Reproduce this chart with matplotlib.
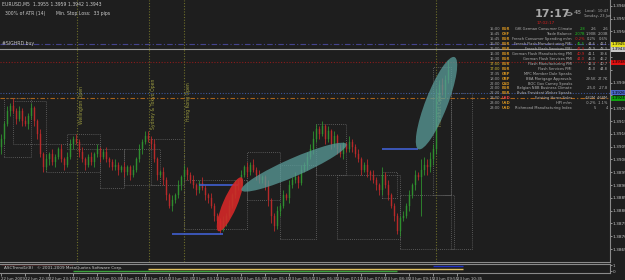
import numpy as np
import matplotlib
matplotlib.use('Agg')
import matplotlib.pyplot as plt
import matplotlib.transforms as mtransforms
from matplotlib.patches import Rectangle, Ellipse, Circle

# ---- data (EURUSD M5, 22-23 Jun 2009) ----
first_open = 1.3905
closes = [1.3908, 1.3914, 1.3919, 1.3921, 1.3919, 1.3916, 1.3919, 1.3915, 1.3914, 1.3917, 1.3920,
          1.3915, 1.3910, 1.3902, 1.3897,
          1.3900, 1.3902, 1.3899, 1.3901, 1.3904, 1.3900, 1.3898, 1.3901,
          1.3906, 1.3908, 1.3907,
          1.3903, 1.3900, 1.3898, 1.3901, 1.3899,
          1.3902, 1.3904, 1.3901, 1.3903, 1.3900,
          1.3899, 1.3897, 1.3898, 1.3896, 1.3897,
          1.3895, 1.3897, 1.3894, 1.3896, 1.3900,
          1.3904, 1.3907, 1.3909, 1.3908,
          1.3906, 1.3900, 1.3894, 1.3895,
          1.3892, 1.3886, 1.3882, 1.3884,
          1.3886, 1.3890, 1.3893, 1.3896, 1.3894, 1.3892,
          1.3890, 1.3888, 1.3891, 1.3889, 1.3886,
          1.3885, 1.3882, 1.3878, 1.3876, 1.3873,
          1.3876, 1.3878, 1.3882, 1.3886, 1.3890, 1.3891,
          1.3894, 1.3897, 1.3895, 1.3898, 1.3896,
          1.3894, 1.3892, 1.3893, 1.3890,
          1.3884, 1.3878, 1.3874, 1.3880,
          1.3882, 1.3886, 1.3885, 1.3890, 1.3892,
          1.3893, 1.3891, 1.3896, 1.3898, 1.3901,
          1.3904, 1.3908, 1.3912, 1.3910, 1.3913,
          1.3908, 1.3911, 1.3906, 1.3909, 1.3904,
          1.3902, 1.3906, 1.3904, 1.3907, 1.3905,
          1.3902, 1.3900, 1.3896, 1.3898, 1.3895,
          1.3894, 1.3892, 1.3890, 1.3888, 1.3894,
          1.3890, 1.3886, 1.3882, 1.3878, 1.3872,
          1.3877, 1.3878, 1.3882, 1.3886, 1.3890,
          1.3894, 1.3893, 1.3896, 1.3898, 1.3897,
          1.3900, 1.3904, 1.3925,
          1.3929, 1.3927, 1.3931, 1.3935, 1.3938,
          1.3945, 1.3952, 1.3955, 1.3943]
# wick sizes in pips
wick_up = [2, 1, 2, 1, 3, 1, 2, 1, 2, 1, 2,
           1, 1, 2, 1,
           2, 1, 2, 1, 1, 2, 1, 2,
           2, 1, 2,
           1, 2, 1, 1, 2,
           1, 2, 1, 1, 2,
           1, 1, 2, 1, 1,
           2, 1, 1, 2, 1,
           2, 1, 2, 2,
           1, 2, 1, 1,
           2, 1, 1, 2,
           1, 2, 1, 2, 1, 1,
           2, 1, 1, 2, 1,
           1, 2, 1, 1, 1,
           2, 1, 2, 1, 2, 1,
           2, 1, 2, 1, 2,
           1, 2, 1, 1,
           2, 1, 1, 2,
           1, 2, 1, 2, 1,
           2, 1, 2, 1, 2,
           2, 3, 2, 1, 2,
           1, 2, 1, 2, 1,
           2, 1, 1, 2, 1,
           1, 2, 1, 1, 2,
           1, 2, 1, 1, 3,
           1, 2, 1, 1, 1,
           1, 2, 1, 2, 1,
           2, 1, 4,
           3, 2, 3, 2, 3,
           2, 3, 2, 4]
wick_dn = [3, 2, 1, 2, 1, 2, 1, 2, 1, 2, 1,
           2, 2, 1, 2,
           1, 2, 1, 2, 1, 1, 2, 1,
           1, 2, 1,
           2, 1, 2, 1, 1,
           2, 1, 2, 1, 1,
           2, 1, 1, 2, 1,
           2, 1, 2, 1, 1,
           1, 2, 1, 1,
           2, 1, 2, 1,
           2, 2, 1, 2,
           1, 1, 2, 1, 2, 1,
           1, 2, 1, 1, 2,
           2, 1, 2, 1, 2,
           1, 2, 1, 1, 1, 2,
           1, 1, 2, 1, 1,
           2, 1, 1, 2,
           2, 3, 2, 1,
           2, 1, 1, 2, 1,
           1, 2, 1, 1, 2,
           1, 2, 1, 2, 1,
           2, 1, 2, 1, 2,
           1, 2, 1, 1, 2,
           1, 1, 2, 1, 2,
           2, 1, 2, 2, 2,
           1, 2, 1, 2, 1,
           2, 1, 1, 2, 1,
           2, 1, 15,
           2, 3, 2, 2, 2,
           2, 2, 3, 1]

price_ticks = [1.3960, 1.3955, 1.3950, 1.3945, 1.3940, 1.3935, 1.3930, 1.3925, 1.3920, 1.3915,
               1.3910, 1.3905, 1.3900, 1.3895, 1.3890, 1.3885, 1.3880, 1.3875, 1.3870, 1.3865]
time_labels = ['22 Jun 2009', '22 Jun 22:35', '22 Jun 23:15', '22 Jun 23:55', '23 Jun 00:35',
               '23 Jun 01:15', '23 Jun 01:55', '23 Jun 02:35', '23 Jun 03:15', '23 Jun 03:55',
               '23 Jun 04:35', '23 Jun 05:15', '23 Jun 05:55', '23 Jun 06:35', '23 Jun 07:15',
               '23 Jun 07:55', '23 Jun 08:35', '23 Jun 09:15', '23 Jun 09:55', '23 Jun 10:35']

# session range boxes: start bar, end bar, low, high
boxes = [(1, 10, 1.3901, 1.3924), (4, 15, 1.3906, 1.3923), (15, 33, 1.3895, 1.3906),
         (22, 33, 1.3904, 1.3910), (33, 41, 1.3889, 1.3904), (41, 53, 1.3890, 1.3904),
         (50, 61, 1.3890, 1.3908), (61, 82, 1.3873, 1.3892), (82, 93, 1.3884, 1.3903),
         (93, 105, 1.3869, 1.3898), (105, 115, 1.3894, 1.3914), (112, 133, 1.3869, 1.3894),
         (127, 132, 1.3885, 1.3895), (133, 151, 1.3865, 1.3886), (144, 150, 1.3886, 1.3936),
         (150, 157, 1.3865, 1.3926)]
# blue breakout levels: start bar, end bar, price
levels = [(57, 74, 1.3871), (66, 79, 1.3890), (127, 139, 1.3904)]
# session open markers
sessions = [(25.3, 'Wellington Open', 1.3914), (49.3, 'Sydney & Tokyo Open', 1.3912),
            (61, 'Hong Kong Open', 1.3915), (145, 'Frankfurt Open', 1.3913)]
# full width lines: price, color, style
hlines = [(1.3945, '#44448e', (0, (5, 2, 1, 2))), (1.3938, '#8a1c1c', (0, (1, 1.5))),
          (1.3926, '#3c569a', (0, (1, 1.5))), (1.3924, '#a8641c', (0, (4, 2, 1, 2)))]
price_flags = [(1.3945, '#e6e01e'), (1.3943, '#c8c8c8'), (1.3938, '#e01010'),
               (1.3926, '#4a66c8'), (1.3924, '#10a010')]

# indicator sub window: start bar, end bar, level, color
ind = [(0, 24, 0.95, '#d03838'), (24, 132, 0.19, '#3aa03a'), (49, 154, 0.41, '#e0c060'),
       (144, 154, 0.78, '#2030c0')]

# economic calendar
ev_time = ['15:00', '15:45', '15:45', '16:00', '16:00', '16:30', '16:30', '17:00', '17:00',
           '17:35', '18:00', '22:00', '22:00', '22:30', '23:00', '23:00', '23:00']
ev_cur = ['EUR', 'CHF', 'EUR', 'EUR', 'EUR', 'EUR', 'EUR', 'EUR', 'EUR',
          'GBP', 'GBP', 'CAD', 'EUR', 'EUR', 'USD', 'USD', 'USD']
ev_name = ['GfK German Consumer Climate', 'Trade Balance', 'French Consumer Spending m/m',
           'French Flash Manufacturing PMI', 'French Flash Services PMI',
           'German Flash Manufacturing PMI', 'German Flash Services PMI',
           'Flash Manufacturing PMI', 'Flash Services PMI', 'MPC Member Dale Speaks',
           'BBA Mortgage Approvals', 'BOC Gov Carney Speaks', 'Belgian NBB Business Climate',
           'Buba President Weber Speaks', 'Existing Home Sales', 'HPI m/m',
           'Richmond Manufacturing Index']
ev_act = ['2.8', '2.07B', '-0.2%', '45.5', '47.3', '40.9', '44.0', '', '', '', '', '', '', '', '', '', '']
ev_act_col = ['#20c020', '#20c020', '#e02020', '#20c020', '#e02020', '#e02020', '#e02020']
ev_fc = ['2.6', '1.90B', '0.2%', '44.6', '48.9', '41.1', '46.0', '42.4', '45.0', '',
         '29.5K', '', '-25.0', '', '4.82M', '-0.2%', '5']
ev_prev = ['2.6', '2.03B', '0.6%', '42.1', '48.3', '39.6', '46.2', '40.7', '44.8', '',
           '27.7K', '', '-27.8', '', '4.68M', '-1.1%', '4']

pip = 0.0001
W, H = 625, 280
bg = '#1e1e1e'
bull, bear = '#2f8f2f', '#b82a2a'

fig = plt.figure(figsize=(W / 100, H / 100), dpi=100, facecolor=bg)
ax = fig.add_axes([0, 18 / H, 610 / W, 262 / H], facecolor=bg)
sub = fig.add_axes([0, 7 / H, 610 / W, 9 / H], facecolor=bg)

ax.set_xlim(-0.5, -0.5 + 610 / 3)
ax.set_ylim(1.39623 - 262 * 0.0000390625, 1.39623)
sub.set_xlim(ax.get_xlim())
sub.set_ylim(0, 1)

# candles
opens = [first_open] + closes[:-1]
for i, (o, c, u, d) in enumerate(zip(opens, closes, wick_up, wick_dn)):
    col = bull if c >= o else bear
    ax.vlines(i, min(o, c) - d * pip, max(o, c) + u * pip, color=col, lw=0.6, zorder=3)
    ax.add_patch(Rectangle((i - 0.3, min(o, c)), 0.6, max(abs(c - o), 0.00003),
                           fc=col, ec=col, lw=0.3, zorder=3))

for i0, i1, lo, hi in boxes:
    ax.add_patch(Rectangle((i0, lo), i1 - i0, hi - lo, fill=False, ec='#6a6a6a',
                           lw=0.6, ls=(0, (1, 1.5)), zorder=2))

for i0, i1, p in levels:
    ax.hlines(p, i0, i1, color='#4060d0', lw=1.2, zorder=4)

for p, col, ls in hlines:
    ax.axhline(p, color=col, lw=0.8, ls=ls, zorder=2)
ax.axhline(closes[-1], color='#9a9a9a', lw=0.8, zorder=2)

for x, name, y in sessions:
    ax.axvline(x, color='#6e6e2a', lw=0.8, ls=(0, (1, 1.5)), zorder=2)
    ax.text(x + 0.6, y, name, rotation=90, ha='left', va='bottom', fontsize=3.3,
            color='#9a9a40', zorder=5)


def ellipse(a, b, w, color, alpha):
    pa = ax.transData.transform(a)
    pb = ax.transData.transform(b)
    d = pb - pa
    e = Ellipse((pa + pb) / 2, np.hypot(*d), w, angle=np.degrees(np.arctan2(d[1], d[0])),
                transform=mtransforms.IdentityTransform(), fc=color, ec='none',
                alpha=alpha, zorder=6)
    ax.add_artist(e)


ellipse((72.3, 1.3872), (80, 1.3893), 14, '#d42828', 0.9)
ellipse((80, 1.3888), (115, 1.3906), 18, '#5a9c9a', 0.75)
ellipse((139, 1.3904), (151, 1.3940), 22, '#5a9c9a', 0.75)

# axes styling
for s in ['left', 'top']:
    ax.spines[s].set_visible(False)
for s in ['right', 'bottom']:
    ax.spines[s].set_color('#8a8a8a')
    ax.spines[s].set_linewidth(0.8)
ax.set_xticks([])
ax.yaxis.tick_right()
ax.set_yticks(price_ticks)
# labels hidden where a price flag sits on top of them
flag_prices = [p for p, _ in price_flags]
ax.set_yticklabels(['' if min(abs(p - f) for f in flag_prices) < 0.00031 else '%.4f' % p
                    for p in price_ticks])
ax.tick_params(axis='y', colors='#c8c8c8', labelsize=3.1, length=1.2, width=0.5, pad=0.6)

blend = mtransforms.blended_transform_factory(ax.transAxes, ax.transData)
for p, col in price_flags:
    ax.text(1.003, p, '%.4f' % p, transform=blend, fontsize=2.9, color='black', va='center',
            ha='left', clip_on=False, zorder=7,
            bbox=dict(boxstyle='square,pad=0.12', fc=col, ec='none'))

# indicator sub window
for i0, i1, lv, col in ind:
    sub.hlines(lv, i0, i1, color=col, lw=1.0)
for s in sub.spines.values():
    s.set_color('#8a8a8a')
    s.set_linewidth(0.8)
sub.spines['left'].set_visible(False)
sub.set_xticks(range(0, 8 * len(time_labels), 8))
sub.set_xticklabels(time_labels)
for lb in sub.get_xticklabels():
    lb.set_ha('left')
sub.tick_params(axis='x', colors='#c0c0c0', labelsize=2.9, length=2, width=0.5, pad=1)
sub.yaxis.tick_right()
sub.set_yticks([0.2, 0.85])
sub.set_yticklabels(['0', '1'])
sub.tick_params(axis='y', colors='#c0c0c0', labelsize=3, length=1.2, width=0.5, pad=0.6)
sub.text(1, 0.5, 'ASCTrend1i(8)   \u00a9 2001-2009 MetaQuotes Software Corp.',
         fontsize=3, color='#c8c8c8', va='center', ha='left')


def ftext(x, y, s, **kw):
    fig.text(x / W, 1 - y / H, s, **kw)


hi_last = closes[-2] + wick_up[-1] * pip
lo_last = closes[-1] - wick_dn[-1] * pip
ftext(2, 4, 'EURUSD,M5  %.4f %.4f %.4f %.4f' % (opens[-1], hi_last, lo_last, closes[-1]),
      fontsize=3.3, color='#c8c8c8', va='center')
ftext(5, 13, '300% of ATR (14)       Min. Stop Loss:  33 pips', fontsize=3.3,
      color='#c8c8c8', va='center')
ftext(2, 43.5, '#SIGHRD buy', fontsize=3.3, color='#c8c8c8', va='center')

# clock
ftext(535, 14, '17:17', fontsize=8, fontweight='bold', color='#a8a8a8', va='center')
fig.patches.append(Circle((569 / W, 1 - 14 / H), 3 / W, transform=fig.transFigure,
                          fill=False, ec='#a8a8a8', lw=0.7))
ftext(574, 12.5, '48', fontsize=4.5, color='#a8a8a8', va='center')
ftext(585, 11, 'Local:  10:47', fontsize=2.6, color='#a8a8a8', va='center')
ftext(583, 16, 'Tuesday, 23 Jun', fontsize=2.6, color='#a8a8a8', va='center')
ftext(537, 23.5, '17:02:17', fontsize=3, color='#d02020', va='center')

for k in range(len(ev_name)):
    y = 29.3 + 4.93 * k
    tcol = '#d8c030' if ev_time[k] == '17:00' else '#a8a8a8'
    ccol = '#e04040' if k == 14 else '#d09020'
    ftext(490, y, ev_time[k], fontsize=2.6, color=tcol, va='center')
    ftext(502, y, ev_cur[k], fontsize=2.6, color=ccol, va='center', fontweight='bold')
    ftext(572, y, ev_name[k], fontsize=2.6, color='#b0b0b0', va='center', ha='right')
    if ev_act[k]:
        ftext(585, y, ev_act[k], fontsize=2.6, color=ev_act_col[k], va='center', ha='right')
    ftext(596, y, ev_fc[k], fontsize=2.6, color='#b0b0b0', va='center', ha='right')
    ftext(608, y, ev_prev[k], fontsize=2.6, color='#b0b0b0', va='center', ha='right')

fig.savefig('out.png', dpi=100, facecolor=bg)
